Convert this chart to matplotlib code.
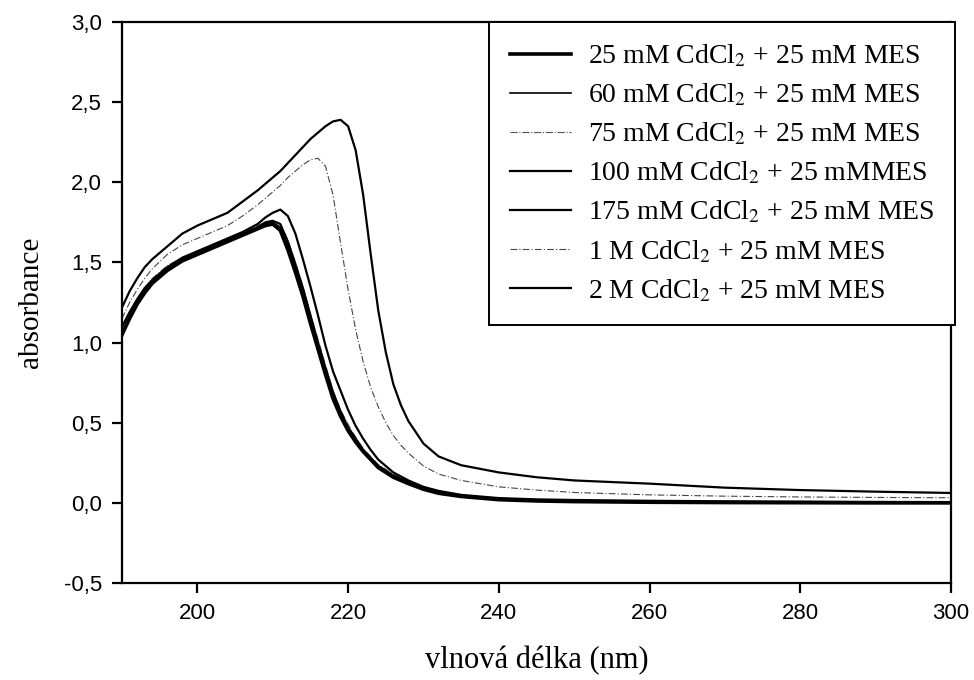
import matplotlib
matplotlib.use("Agg")
from matplotlib import pyplot as plt
from matplotlib.ticker import FuncFormatter, MultipleLocator

# vlnova delka (nm) - spolecna osa pro vsechny krivky
wl = [190, 191, 192, 193, 194, 196, 198, 200, 202, 204, 206, 208, 209, 210, 211,
      212, 213, 214, 215, 216, 217, 218, 219, 220, 221, 222, 223, 224, 225, 226,
      227, 228, 230, 232, 235, 240, 245, 250, 260, 270, 280, 290, 300]

a_25mM = [1.05, 1.15, 1.24, 1.31, 1.37, 1.45, 1.51, 1.55, 1.59, 1.63, 1.67, 1.71, 1.73, 1.74, 1.70,
          1.58, 1.44, 1.29, 1.12, 0.96, 0.80, 0.65, 0.54, 0.45, 0.38, 0.32, 0.27, 0.22, 0.19, 0.16,
          0.14, 0.12, 0.085, 0.06, 0.04, 0.02, 0.012, 0.008, 0.004, 0.002, 0.001, 0.0, 0.0]
a_60mM = [1.07, 1.17, 1.26, 1.33, 1.39, 1.47, 1.52, 1.56, 1.60, 1.64, 1.68, 1.72, 1.74, 1.75, 1.72,
          1.61, 1.47, 1.32, 1.15, 0.99, 0.83, 0.68, 0.56, 0.47, 0.40, 0.33, 0.28, 0.23, 0.20, 0.17,
          0.15, 0.13, 0.09, 0.065, 0.045, 0.025, 0.016, 0.011, 0.006, 0.004, 0.003, 0.002, 0.002]
a_75mM = [1.08, 1.18, 1.27, 1.34, 1.40, 1.48, 1.53, 1.57, 1.61, 1.65, 1.69, 1.73, 1.75, 1.76, 1.74,
          1.64, 1.50, 1.35, 1.18, 1.02, 0.86, 0.70, 0.58, 0.49, 0.41, 0.34, 0.29, 0.24, 0.21, 0.18,
          0.155, 0.135, 0.10, 0.07, 0.05, 0.03, 0.02, 0.015, 0.01, 0.008, 0.007, 0.006, 0.006]
a_100mM = [1.06, 1.16, 1.25, 1.32, 1.38, 1.46, 1.52, 1.56, 1.60, 1.64, 1.68, 1.72, 1.75, 1.76, 1.74,
           1.63, 1.49, 1.34, 1.17, 1.00, 0.84, 0.69, 0.57, 0.47, 0.40, 0.33, 0.28, 0.23, 0.20, 0.17,
           0.15, 0.13, 0.09, 0.065, 0.045, 0.025, 0.016, 0.01, 0.006, 0.004, 0.003, 0.002, 0.002]
a_175mM = [1.10, 1.19, 1.27, 1.34, 1.39, 1.47, 1.53, 1.57, 1.61, 1.65, 1.69, 1.74, 1.78, 1.81, 1.83,
           1.79, 1.68, 1.52, 1.35, 1.17, 0.98, 0.82, 0.70, 0.58, 0.48, 0.40, 0.33, 0.27, 0.23, 0.19,
           0.165, 0.14, 0.10, 0.075, 0.05, 0.03, 0.022, 0.018, 0.013, 0.01, 0.008, 0.006, 0.005]
a_1M = [1.15, 1.25, 1.33, 1.40, 1.46, 1.55, 1.61, 1.65, 1.69, 1.73, 1.79, 1.86, 1.90, 1.94, 1.98,
        2.03, 2.07, 2.11, 2.14, 2.15, 2.10, 1.92, 1.62, 1.33, 1.08, 0.88, 0.72, 0.60, 0.50, 0.42,
        0.36, 0.31, 0.23, 0.18, 0.14, 0.10, 0.08, 0.065, 0.05, 0.042, 0.037, 0.034, 0.032]
a_2M = [1.22, 1.32, 1.40, 1.47, 1.52, 1.60, 1.68, 1.73, 1.77, 1.81, 1.88, 1.95, 1.99, 2.03, 2.07,
        2.12, 2.17, 2.22, 2.27, 2.31, 2.35, 2.38, 2.39, 2.35, 2.20, 1.92, 1.55, 1.20, 0.94, 0.74,
        0.61, 0.51, 0.37, 0.29, 0.235, 0.19, 0.16, 0.14, 0.12, 0.095, 0.08, 0.07, 0.062]

labels = ["25 mM CdCl$_2$ + 25 mM MES",
          "60 mM CdCl$_2$ + 25 mM MES",
          "75 mM CdCl$_2$ + 25 mM MES",
          "100 mM CdCl$_2$ + 25 mMMES",
          "175 mM CdCl$_2$ + 25 mM MES",
          "1 M CdCl$_2$ + 25 mM MES",
          "2 M CdCl$_2$ + 25 mM MES"]

plt.rcParams['mathtext.fontset'] = 'stix'
plt.rcParams['font.family'] = ['Liberation Sans', 'DejaVu Sans']

fig = plt.figure(figsize=(9.74, 6.8), dpi=100)
ax = fig.add_axes([0.1253, 0.1426, 0.8511, 0.825])

ax.plot(wl, a_25mM, c='black', lw=2.6, label=labels[0])
ax.plot(wl, a_60mM, c='black', lw=1.2, label=labels[1])
ax.plot(wl, a_75mM, c='#555555', lw=0.8, ls='-.', label=labels[2])
ax.plot(wl, a_100mM, c='black', lw=1.6, label=labels[3])
ax.plot(wl, a_175mM, c='black', lw=1.6, label=labels[4])
ax.plot(wl, a_1M, c='#444444', lw=0.8, ls=(0, (6, 2, 1, 2)), label=labels[5])
ax.plot(wl, a_2M, c='black', lw=1.6, label=labels[6])

ax.set_xlim(190, 300)
ax.set_ylim(-0.5, 3.0)
ax.xaxis.set_major_locator(MultipleLocator(20))
ax.yaxis.set_major_locator(MultipleLocator(0.5))
ax.yaxis.set_major_formatter(FuncFormatter(lambda v, p: ('%.1f' % v).replace('.', ',')))
ax.xaxis.set_major_formatter(FuncFormatter(lambda v, p: '%d' % v))

for s in ax.spines.values():
    s.set_linewidth(1.6)
ax.tick_params(axis='both', direction='out', length=7.5, width=1.6, top=False, right=False,
               labelsize=16, pad=7)

ax.set_xlabel('vlnová délka (nm)', fontsize=22, family='Liberation Serif', labelpad=16)
ax.set_ylabel('absorbance', fontsize=21, family='Liberation Serif', labelpad=14)

leg = ax.legend(loc='upper right', bbox_to_anchor=(1.005, 1.0), fancybox=False,
                edgecolor='black', framealpha=1, handlelength=2.2, handletextpad=0.6,
                labelspacing=0.45, borderpad=0.75, borderaxespad=0,
                prop={'family': 'Liberation Serif', 'size': 20})
leg.get_frame().set_linewidth(1.4)

fig.savefig('out.png', dpi=100)
